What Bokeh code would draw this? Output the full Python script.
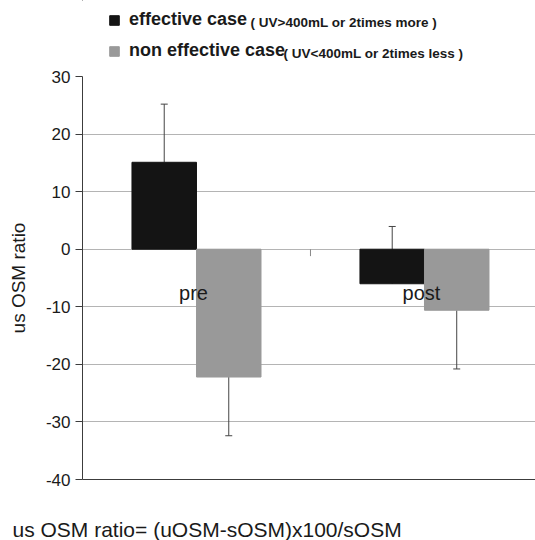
from bokeh.plotting import figure
from bokeh.models import (ColumnDataSource, FixedTicker, Legend, LegendItem, Label,
                          Whisker, TeeHead, Range1d, Title)
from bokeh.layouts import column
from bokeh.core.properties import value
from bokeh.embed import file_html
from bokeh.resources import INLINE

# ---- data ----
cats = ["pre", "post"]
effective = [15.1, -6.0]
effective_err = [10.1, 9.95]
non_effective = [-22.2, -10.6]
non_effective_err = [10.2, 10.2]
y_ticks = [-40, -30, -20, -10, 0, 10, 20, 30]
series_labels = ["effective case", "non effective case"]
series_notes = ["( UV>400mL or 2times more )", "( UV<400mL or 2times less )"]
y_label = "us OSM ratio"
footnote = "us OSM ratio= (uOSM-sOSM)x100/sOSM"

FONT = "Liberation Sans"
TXT = "#1a1a1a"
BLACK = "#141414"
GRAY = "#999999"
AXC = "#3c3c3c"
W = 535

# ---------------- legend strip ----------------
top = figure(width=W, height=66, output_backend="svg", toolbar_location=None,
             x_axis_location=None, y_axis_location=None, min_border=0,
             x_range=Range1d(0, 1), y_range=Range1d(0, 1))
top.outline_line_color = None
top.grid.visible = False
# legend-only renderers (placed outside the strip's visible range)
lr1 = top.vbar(x=[-50], bottom=[50], top=[51], width=0.1, fill_color=BLACK, line_color=BLACK)
lr2 = top.vbar(x=[-50], bottom=[50], top=[51], width=0.1, fill_color=GRAY, line_color=GRAY)
legend = Legend(items=[LegendItem(label=series_labels[0], renderers=[lr1]),
                       LegendItem(label=series_labels[1], renderers=[lr2])],
                location=(26, 5), orientation="vertical",
                glyph_width=12, glyph_height=12, label_standoff=9,
                label_height=20, spacing=10, padding=0, margin=0,
                border_line_color=None, background_fill_alpha=0,
                label_text_font=FONT, label_text_font_style="bold",
                label_text_font_size="18px", label_text_color=TXT)
top.add_layout(legend, "center")
note_x = [168, 201]
note_y = [44, 13]
for t, nx, ny in zip(series_notes, note_x, note_y):
    top.add_layout(Label(x=nx, y=ny, x_units="screen", y_units="screen", text=t,
                         text_font=FONT, text_font_style="bold", text_font_size="13.5px",
                         text_color=TXT, text_baseline="alphabetic"))

# ---------------- main chart ----------------
bar_w = 0.283
centers = [i + 0.5 for i in range(len(cats))]
x_eff = [c - bar_w / 2 for c in centers]
x_non = [c + bar_w / 2 for c in centers]

p = figure(width=W, height=425, output_backend="svg", toolbar_location=None,
           x_range=Range1d(0, 1.987), y_range=Range1d(-40, 30),
           min_border_left=82, min_border_right=0, min_border_top=10, min_border_bottom=12)
p.outline_line_color = None

p.xgrid.visible = False
p.ygrid.ticker = FixedTicker(ticks=y_ticks)
p.ygrid.grid_line_color = "#b4b4b4"
p.ygrid.grid_line_width = 1

p.yaxis.ticker = FixedTicker(ticks=y_ticks)
p.yaxis.major_label_overrides = {t: str(t) for t in y_ticks}
p.yaxis.axis_line_color = AXC
p.yaxis.major_tick_line_color = AXC
p.yaxis.major_tick_out = 7
p.yaxis.major_tick_in = 0
p.yaxis.minor_tick_line_color = None
p.yaxis.major_label_standoff = 5
p.yaxis.major_label_text_font = FONT
p.yaxis.major_label_text_font_size = "17px"
p.yaxis.major_label_text_color = TXT
p.yaxis.axis_label = y_label
p.yaxis.axis_label_text_font = FONT
p.yaxis.axis_label_text_font_style = "normal"
p.yaxis.axis_label_text_font_size = "19px"
p.yaxis.axis_label_text_color = TXT
p.yaxis.axis_label_standoff = 14

p.xaxis.ticker = FixedTicker(ticks=[])
p.xaxis.major_label_text_font_size = "0px"
p.xaxis.major_tick_line_color = None
p.xaxis.minor_tick_line_color = None
p.xaxis.axis_line_color = AXC

src = ColumnDataSource(dict(x_eff=x_eff, x_non=x_non, eff=effective, non=non_effective,
                            eff_hi=[v + e for v, e in zip(effective, effective_err)],
                            non_lo=[v - e for v, e in zip(non_effective, non_effective_err)]))

w1 = Whisker(source=src, base="x_eff", lower="eff", upper="eff_hi", dimension="height",
             line_color="#444444", line_width=1, lower_head=None,
             upper_head=TeeHead(size=7, line_color="#444444", line_width=1), level="underlay")
w2 = Whisker(source=src, base="x_non", lower="non_lo", upper="non", dimension="height",
             line_color="#444444", line_width=1, upper_head=None,
             lower_head=TeeHead(size=7, line_color="#444444", line_width=1), level="underlay")
p.add_layout(w1)
p.add_layout(w2)

p.vbar(x="x_eff", top="eff", bottom=0, width=bar_w, source=src,
       fill_color=BLACK, line_color=BLACK)
p.vbar(x="x_non", top=0, bottom="non", width=bar_w, source=src,
       fill_color=GRAY, line_color=GRAY)

bounds = [float(i) for i in range(1, len(cats))]
p.segment(x0=bounds, y0=[0] * len(bounds), x1=bounds, y1=[-1.2] * len(bounds),
          line_color="#888888", line_width=1)

p.text(x=centers, y=[0] * len(cats), text=cats, text_align="center",
       text_baseline="alphabetic", y_offset=44, x_offset=-3,
       text_font=value(FONT), text_font_size="20px", text_color=TXT)

# ---------------- footnote strip ----------------
bot = figure(width=W, height=49, output_backend="svg", toolbar_location=None,
             x_axis_location=None, y_axis_location=None, min_border=0,
             x_range=Range1d(0, 1), y_range=Range1d(0, 1))
bot.outline_line_color = None
bot.grid.visible = False
bot.add_layout(Title(text=footnote, align="left", offset=-70, standoff=0,
                     text_font=FONT, text_font_size="21px", text_font_style="normal",
                     text_color=TXT), "below")

layout = column(top, p, bot, spacing=0)
open("out.html", "w").write(file_html(layout, INLINE))
